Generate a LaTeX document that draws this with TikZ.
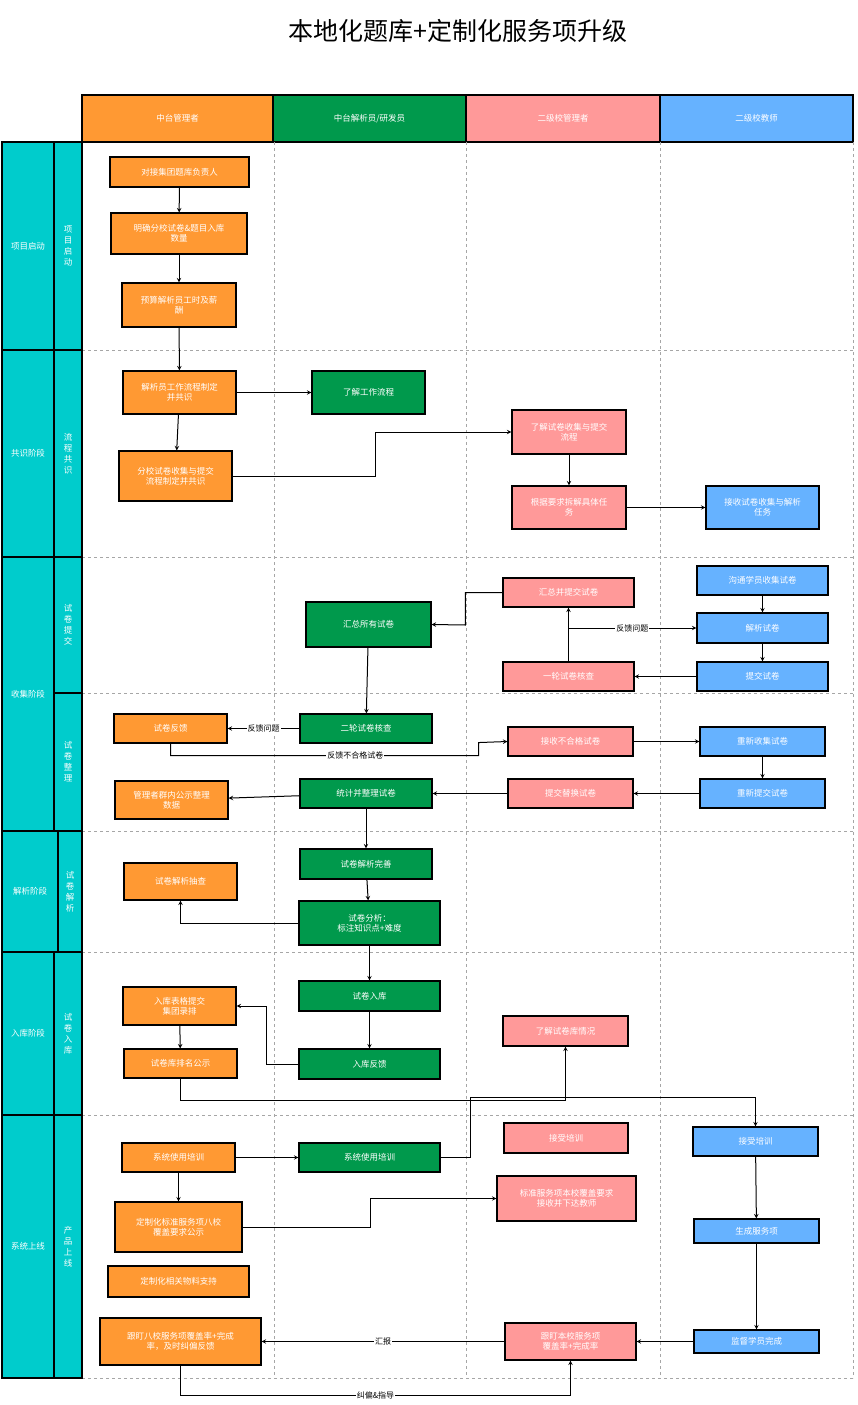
\documentclass[tikz,border=0pt]{standalone}
\usepackage{fontspec}
\setmainfont{Noto Sans CJK SC}
\usepackage{tikz}
\usetikzlibrary{shapes,arrows}

\definecolor{mgrc}{RGB}{255,153,51}
\definecolor{devc}{RGB}{0,153,76}
\definecolor{admc}{RGB}{255,153,153}
\definecolor{tchc}{RGB}{102,178,255}
\definecolor{phasec}{RGB}{0,204,204}

\tikzset{
  box/.style={draw=black, line width=1.1pt, text=white, align=center, font=\fontsize{8.5}{10}\selectfont, inner sep=1pt},
  mgr/.style={box, fill=mgrc},
  dev/.style={box, fill=devc},
  adm/.style={box, fill=admc},
  tch/.style={box, fill=tchc},
  head/.style={draw=black, line width=1.2pt, text=white, font=\fontsize{8.5}{10}\selectfont},
  phase/.style={draw=black, line width=1.2pt, fill=phasec, text=white, align=center, font=\fontsize{8.5}{11}\selectfont},
  grid/.style={gray!70, dashed, line width=0.4pt},
  flow/.style={->, >=stealth, line width=1pt},
  elabel/.style={fill=white, inner sep=1pt, font=\fontsize{8}{9}\selectfont}
}

\begin{document}
\begin{tikzpicture}[x=1pt,y=1pt,yscale=-1]
    \useasboundingbox (0,0) rectangle (857,1405);

    % title
    \node (title) at (458,31) {\fontsize{25}{28}\selectfont 本地化题库+定制化服务项升级};

    % header
    \node[head, fill=mgrc, minimum width=191pt, minimum height=47pt] (h1) at (177.5,118.5) {中台管理者};
    \node[head, fill=devc, minimum width=193pt, minimum height=47pt] (h2) at (369.5,118.5) {中台解析员/研发员};
    \node[head, fill=admc, minimum width=194pt, minimum height=47pt] (h3) at (563,118.5) {二级校管理者};
    \node[head, fill=tchc, minimum width=193pt, minimum height=47pt] (h4) at (756.5,118.5) {二级校教师};

    % grid
    \foreach \x in {82,274,466,660,853}
        \draw[grid] (\x,142) -- (\x,1378);
    \foreach \y in {350,557,693,831,952,1115,1378}
        \draw[grid] (82,\y) -- (853,\y);

    % phases
    \node[phase, minimum width=52pt, minimum height=208pt] (p1) at (28,246) {项目启动};
    \node[phase, minimum width=28pt, minimum height=208pt] (q1) at (68,246) {项\\目\\启\\动};
    \node[phase, minimum width=52pt, minimum height=207pt] (p2) at (28,453.5) {共识阶段};
    \node[phase, minimum width=28pt, minimum height=207pt] (q2) at (68,453.5) {流\\程\\共\\识};
    \node[phase, minimum width=52pt, minimum height=274pt] (p3) at (28,694) {收集阶段};
    \node[phase, minimum width=28pt, minimum height=136pt] (q3) at (68,625) {试\\卷\\提\\交};
    \node[phase, minimum width=28pt, minimum height=138pt] (q4) at (68,762) {试\\卷\\整\\理};
    \node[phase, minimum width=56pt, minimum height=121pt] (p4) at (30,891.5) {解析阶段};
    \node[phase, minimum width=24pt, minimum height=121pt] (q5) at (70,891.5) {试\\卷\\解\\析};
    \node[phase, minimum width=52pt, minimum height=163pt] (p5) at (28,1033.5) {入库阶段};
    \node[phase, minimum width=28pt, minimum height=163pt] (q6) at (68,1033.5) {试\\卷\\入\\库};
    \node[phase, minimum width=52pt, minimum height=263pt] (p6) at (28,1246.5) {系统上线};
    \node[phase, minimum width=28pt, minimum height=263pt] (q7) at (68,1246.5) {产\\品\\上\\线};

    % 中台管理者
    \node[mgr, minimum width=139pt, minimum height=30pt] (a1) at (179.5,172) {对接集团题库负责人};
    \node[mgr, minimum width=136pt, minimum height=41pt] (a2) at (179,233.5) {明确分校试卷\&题目入库\\数量};
    \node[mgr, minimum width=114pt, minimum height=44pt] (a3) at (179,305) {预算解析员工时及薪\\酬};
    \node[mgr, minimum width=113pt, minimum height=43pt] (a4) at (179.5,392.5) {解析员工作流程制定\\并共识};
    \node[mgr, minimum width=113pt, minimum height=50pt] (a5) at (175.5,476) {分校试卷收集与提交\\流程制定并共识};
    \node[mgr, minimum width=113pt, minimum height=29pt] (a6) at (170.5,728.5) {试卷反馈};
    \node[mgr, minimum width=113pt, minimum height=38pt] (a7) at (171.5,800) {管理者群内公示整理\\数据};
    \node[mgr, minimum width=113pt, minimum height=37pt] (a8) at (180.5,881.5) {试卷解析抽查};
    \node[mgr, minimum width=113pt, minimum height=38pt] (a9) at (179.5,1006) {入库表格提交\\集团录排};
    \node[mgr, minimum width=113pt, minimum height=29pt] (a10) at (180.5,1063.5) {试卷库排名公示};
    \node[mgr, minimum width=113pt, minimum height=29pt] (a11) at (178.5,1157.5) {系统使用培训};
    \node[mgr, minimum width=127pt, minimum height=50pt] (a12) at (178.5,1227) {定制化标准服务项八校\\覆盖要求公示};
    \node[mgr, minimum width=141pt, minimum height=31pt] (a13) at (178.5,1281.5) {定制化相关物料支持};
    \node[mgr, minimum width=161pt, minimum height=47pt] (a14) at (180.5,1341.5) {跟盯八校服务项覆盖率+完成\\率，及时纠偏反馈};

    % 中台解析员/研发员
    \node[dev, minimum width=113pt, minimum height=43pt] (b1) at (368.5,392.5) {了解工作流程};
    \node[dev, minimum width=125pt, minimum height=45pt] (b2) at (368.5,624.5) {汇总所有试卷};
    \node[dev, minimum width=132pt, minimum height=29pt] (b3) at (366,728.5) {二轮试卷核查};
    \node[dev, minimum width=132pt, minimum height=29pt] (b4) at (366,793.5) {统计并整理试卷};
    \node[dev, minimum width=132pt, minimum height=30pt] (b5) at (366,864) {试卷解析完善};
    \node[dev, minimum width=141pt, minimum height=44pt] (b6) at (369.5,923) {试卷分析：\\标注知识点+难度};
    \node[dev, minimum width=141pt, minimum height=30pt] (b7) at (369.5,996) {试卷入库};
    \node[dev, minimum width=141pt, minimum height=30pt] (b8) at (369.5,1064) {入库反馈};
    \node[dev, minimum width=141pt, minimum height=29pt] (b9) at (369.5,1157.5) {系统使用培训};

    % 二级校管理者
    \node[adm, minimum width=114pt, minimum height=44pt] (c1) at (569,432) {了解试卷收集与提交\\流程};
    \node[adm, minimum width=114pt, minimum height=43pt] (c2) at (569,507.5) {根据要求拆解具体任\\务};
    \node[adm, minimum width=131pt, minimum height=29pt] (c3) at (568.5,592.5) {汇总并提交试卷};
    \node[adm, minimum width=131pt, minimum height=29pt] (c4) at (568.5,676.5) {一轮试卷核查};
    \node[adm, minimum width=125pt, minimum height=29pt] (c5) at (570.5,741.5) {接收不合格试卷};
    \node[adm, minimum width=125pt, minimum height=29pt] (c6) at (570.5,793.5) {提交替换试卷};
    \node[adm, minimum width=125pt, minimum height=30pt] (c7) at (565.5,1031) {了解试卷库情况};
    \node[adm, minimum width=124pt, minimum height=30pt] (c8) at (566,1138) {接受培训};
    \node[adm, minimum width=139pt, minimum height=45pt] (c9) at (566.5,1198.5) {标准服务项本校覆盖要求\\接收并下达教师};
    \node[adm, minimum width=131pt, minimum height=37pt] (c10) at (570.5,1341.5) {跟盯本校服务项\\覆盖率+完成率};

    % 二级校教师
    \node[tch, minimum width=113pt, minimum height=43pt] (d1) at (762.5,507.5) {接收试卷收集与解析\\任务};
    \node[tch, minimum width=131pt, minimum height=29pt] (d2) at (762.5,580.5) {沟通学员收集试卷};
    \node[tch, minimum width=131pt, minimum height=30pt] (d3) at (762.5,628) {解析试卷};
    \node[tch, minimum width=131pt, minimum height=29pt] (d4) at (762.5,676.5) {提交试卷};
    \node[tch, minimum width=125pt, minimum height=29pt] (d5) at (762.5,741.5) {重新收集试卷};
    \node[tch, minimum width=125pt, minimum height=29pt] (d6) at (762.5,793.5) {重新提交试卷};
    \node[tch, minimum width=125pt, minimum height=29pt] (d7) at (755.5,1141.5) {接受培训};
    \node[tch, minimum width=125pt, minimum height=24pt] (d8) at (756.5,1231) {生成服务项};
    \node[tch, minimum width=125pt, minimum height=23pt] (d9) at (756.5,1341.5) {监督学员完成};

    % connectors
    \draw[flow] (a1) -- (a2);
    \draw[flow] (a2) -- (a3);
    \draw[flow] (a3) -- (a4);
    \draw[flow] (a4) -- (a5);
    \draw[flow] (a4) -- (b1);
    \draw[flow] (a5.east) -- ++(143,0) |- (c1.west);
    \draw[flow] (c1) -- (c2);
    \draw[flow] (c2) -- (d1);
    \draw[flow] (d2) -- (d3);
    \draw[flow] (d3) -- (d4);
    \draw[flow] (d4) -- (c4);
    \draw[flow] (c4) -- (c3);
    \coordinate (fb) at (c4.north |- d3.west);
    \draw[flow] (fb) -- node[elabel] {反馈问题} (d3.west);
    \draw[flow] (c3.west) -| ++(-37,32.5) -- (b2.east);
    \draw[flow] (b2) -- (b3);
    \draw[flow] (b3) -- node[elabel] {反馈问题} (a6);
    \draw[flow] (a6.south) |- ++(0,12) -| node[elabel, pos=0.3] {反馈不合格试卷} ++(308,-13) -- (c5.west);
    \draw[flow] (c5) -- (d5);
    \draw[flow] (d5) -- (d6);
    \draw[flow] (d6) -- (c6);
    \draw[flow] (c6) -- (b4);
    \draw[flow] (b4) -- (a7);
    \draw[flow] (b4) -- (b5);
    \draw[flow] (b5) -- (b6);
    \draw[flow] (b6.west) -| (a8.south);
    \draw[flow] (b6) -- (b7);
    \draw[flow] (b7) -- (b8);
    \draw[flow] (b8.west) -- ++(-32,0) |- (a9.east);
    \draw[flow] (a9) -- (a10);
    \draw[flow] (a10.south) |- ++(0,22) -| (c7.south);
    \draw[flow] (b9.east) -- ++(30,0) |- ++(0,-60) -| (d7.north);
    \draw[flow] (a11) -- (b9);
    \draw[flow] (a11) -- (a12);
    \draw[flow] (a12.east) -- ++(128,0) |- (c9.west);
    \draw[flow] (d7) -- (d8);
    \draw[flow] (d8) -- (d9);
    \draw[flow] (d9) -- (c10);
    \draw[flow] (c10) -- node[elabel] {汇报} (a14);
    \draw[flow] (a14.south) |- ++(0,30) -| node[elabel, pos=0.25] {纠偏\&指导} (c10.south);
\end{tikzpicture}
\end{document}
